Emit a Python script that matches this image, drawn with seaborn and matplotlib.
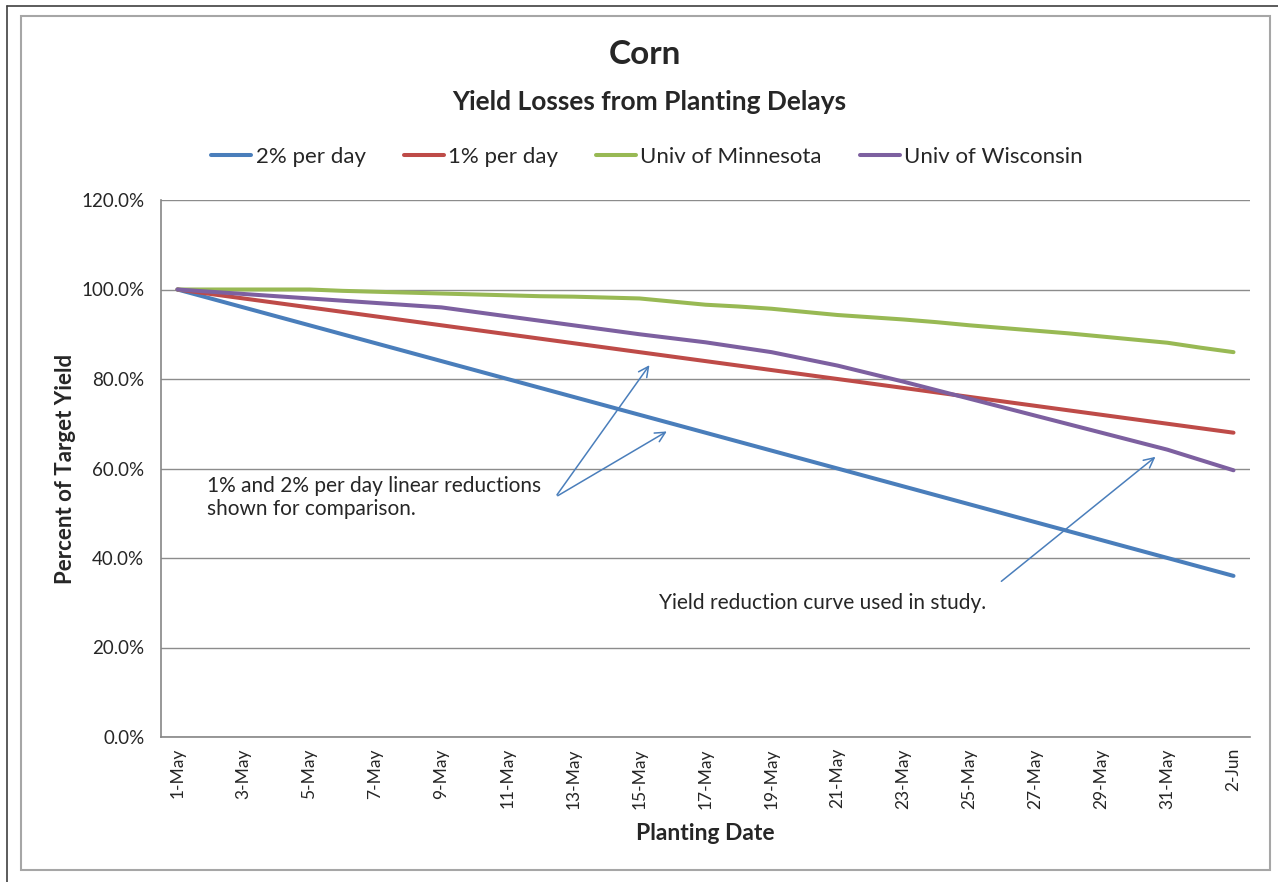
import numpy as np
import pandas as pd
import matplotlib
matplotlib.use("Agg")
import matplotlib.pyplot as plt
from matplotlib.patches import Rectangle
import seaborn as sns

# planting dates, 1-May .. 2-Jun
dates = [f"{d}-May" for d in range(1, 32)] + ["1-Jun", "2-Jun"]

# percent of target yield
two_pct = [100, 98, 96, 94, 92, 90, 88, 86, 84, 82, 80, 78, 76, 74, 72, 70, 68,
           66, 64, 62, 60, 58, 56, 54, 52, 50, 48, 46, 44, 42, 40, 38, 36]
one_pct = [100, 99, 98, 97, 96, 95, 94, 93, 92, 91, 90, 89, 88, 87, 86, 85, 84,
           83, 82, 81, 80, 79, 78, 77, 76, 75, 74, 73, 72, 71, 70, 69, 68]
minnesota = [100, 100, 100, 100, 100, 99.7, 99.5, 99.3, 99.1, 98.9, 98.7, 98.5,
             98.4, 98.2, 98.0, 97.3, 96.6, 96.2, 95.7, 95.0, 94.3, 93.8, 93.3,
             92.7, 92.0, 91.4, 90.8, 90.2, 89.5, 88.8, 88.1, 87.0, 86.0]
wisconsin = [100, 99.5, 99, 98.5, 98, 97.5, 97, 96.5, 96, 95, 94, 93, 92, 91, 90,
             89.1, 88.2, 87.1, 86, 84.5, 83, 81.2, 79.4, 77.5, 75.6, 73.7, 71.8,
             69.9, 68.0, 66.1, 64.2, 61.9, 59.6]

series = {"2% per day": two_pct, "1% per day": one_pct,
          "Univ of Minnesota": minnesota, "Univ of Wisconsin": wisconsin}
colors = ["#4A7EBB", "#BE4B48", "#98B954", "#7D60A0"]

frames = []
for name, vals in series.items():
    frames.append(pd.DataFrame({"day": np.arange(len(dates)), "yield": vals,
                                "series": name}))
df = pd.concat(frames, ignore_index=True)

sns.set_style("white")
plt.rcParams["font.family"] = ["Lato", "DejaVu Sans"]

fig = plt.figure(figsize=(12.78, 8.82), dpi=100)
ax = fig.add_axes([161 / 1278, 1 - 737 / 882, (1250 - 161) / 1278, (737 - 200) / 882])

sns.lineplot(data=df, x="day", y="yield", hue="series", palette=colors,
             linewidth=2.9, ax=ax, legend=True)
for ln in ax.lines:
    ln.set_solid_capstyle("round")

ax.set_xlim(-0.5, len(dates) - 0.5)
ax.set_ylim(0, 120)
ax.set_yticks(np.arange(0, 121, 20))
ax.set_yticklabels([f"{v:.1f}%" for v in np.arange(0, 121, 20)], fontsize=13.5)
ax.set_xticks(np.arange(0, len(dates), 2))
ax.set_xticklabels(dates[::2], rotation=90, fontsize=12.5)
ax.set_xticks(np.arange(-0.5, len(dates), 2), minor=True)
ax.tick_params(axis="x", which="major", length=0, pad=8)
ax.tick_params(axis="x", which="minor", length=6, color="#868686", direction="out")
ax.tick_params(axis="y", length=6, color="#868686", direction="out", pad=6)
ax.grid(axis="y", color="#8c8c8c", linewidth=1)
ax.grid(axis="x", visible=False)
for s in ["top", "right"]:
    ax.spines[s].set_visible(False)
for s in ["left", "bottom"]:
    ax.spines[s].set_color("#868686")
    ax.spines[s].set_linewidth(1.2)

ax.set_xlabel("Planting Date", fontsize=16.5, fontweight="bold", labelpad=10)
ax.set_ylabel("Percent of Target Yield", fontsize=16, fontweight="bold", labelpad=4)

handles, labels = ax.get_legend_handles_labels()
ax.legend(handles, labels, loc="center", bbox_to_anchor=(647 / 1278, 1 - 157 / 882),
          bbox_transform=fig.transFigure, ncol=4, frameon=False, fontsize=16,
          handlelength=1.8, handletextpad=0.2, columnspacing=1.7)

fig.text(645 / 1278, 1 - 55 / 882, "Corn", ha="center", va="center",
         fontsize=24, fontweight="bold")
fig.text(649 / 1278, 1 - 102 / 882, "Yield Losses from Planting Delays",
         ha="center", va="center", fontsize=19, fontweight="bold")

# annotations
arrow = dict(arrowstyle="->", color="#4A7EBB", lw=1.1, mutation_scale=18)
ax.text(0.9, 53.5, "1% and 2% per day linear reductions\nshown for comparison.",
        fontsize=15, va="center", ha="left", linespacing=1.15)
ax.annotate("", xy=(14.35, 83.6), xytext=(11.45, 53.6), arrowprops=arrow)
ax.annotate("", xy=(14.9, 68.6), xytext=(11.45, 53.6), arrowprops=arrow)
ax.text(14.6, 29.9, "Yield reduction curve used in study.", fontsize=15,
        va="center", ha="left")
ax.annotate("", xy=(29.7, 63.0), xytext=(24.9, 34.4), arrowprops=arrow)

# chart frame
fig.patches.append(Rectangle((21 / 1278, 1 - 870 / 882), (1270 - 21) / 1278,
                             (870 - 16) / 882, transform=fig.transFigure,
                             fill=False, edgecolor="#a6a6a6", linewidth=1.5))
fig.add_artist(plt.Line2D([7 / 1278, 7 / 1278], [0, 1 - 6 / 882],
                          transform=fig.transFigure, color="#404040", lw=1.2))
fig.add_artist(plt.Line2D([7 / 1278, 1], [1 - 6 / 882, 1 - 6 / 882],
                          transform=fig.transFigure, color="#404040", lw=1.2))

fig.savefig("out.png", dpi=100, facecolor="white")
